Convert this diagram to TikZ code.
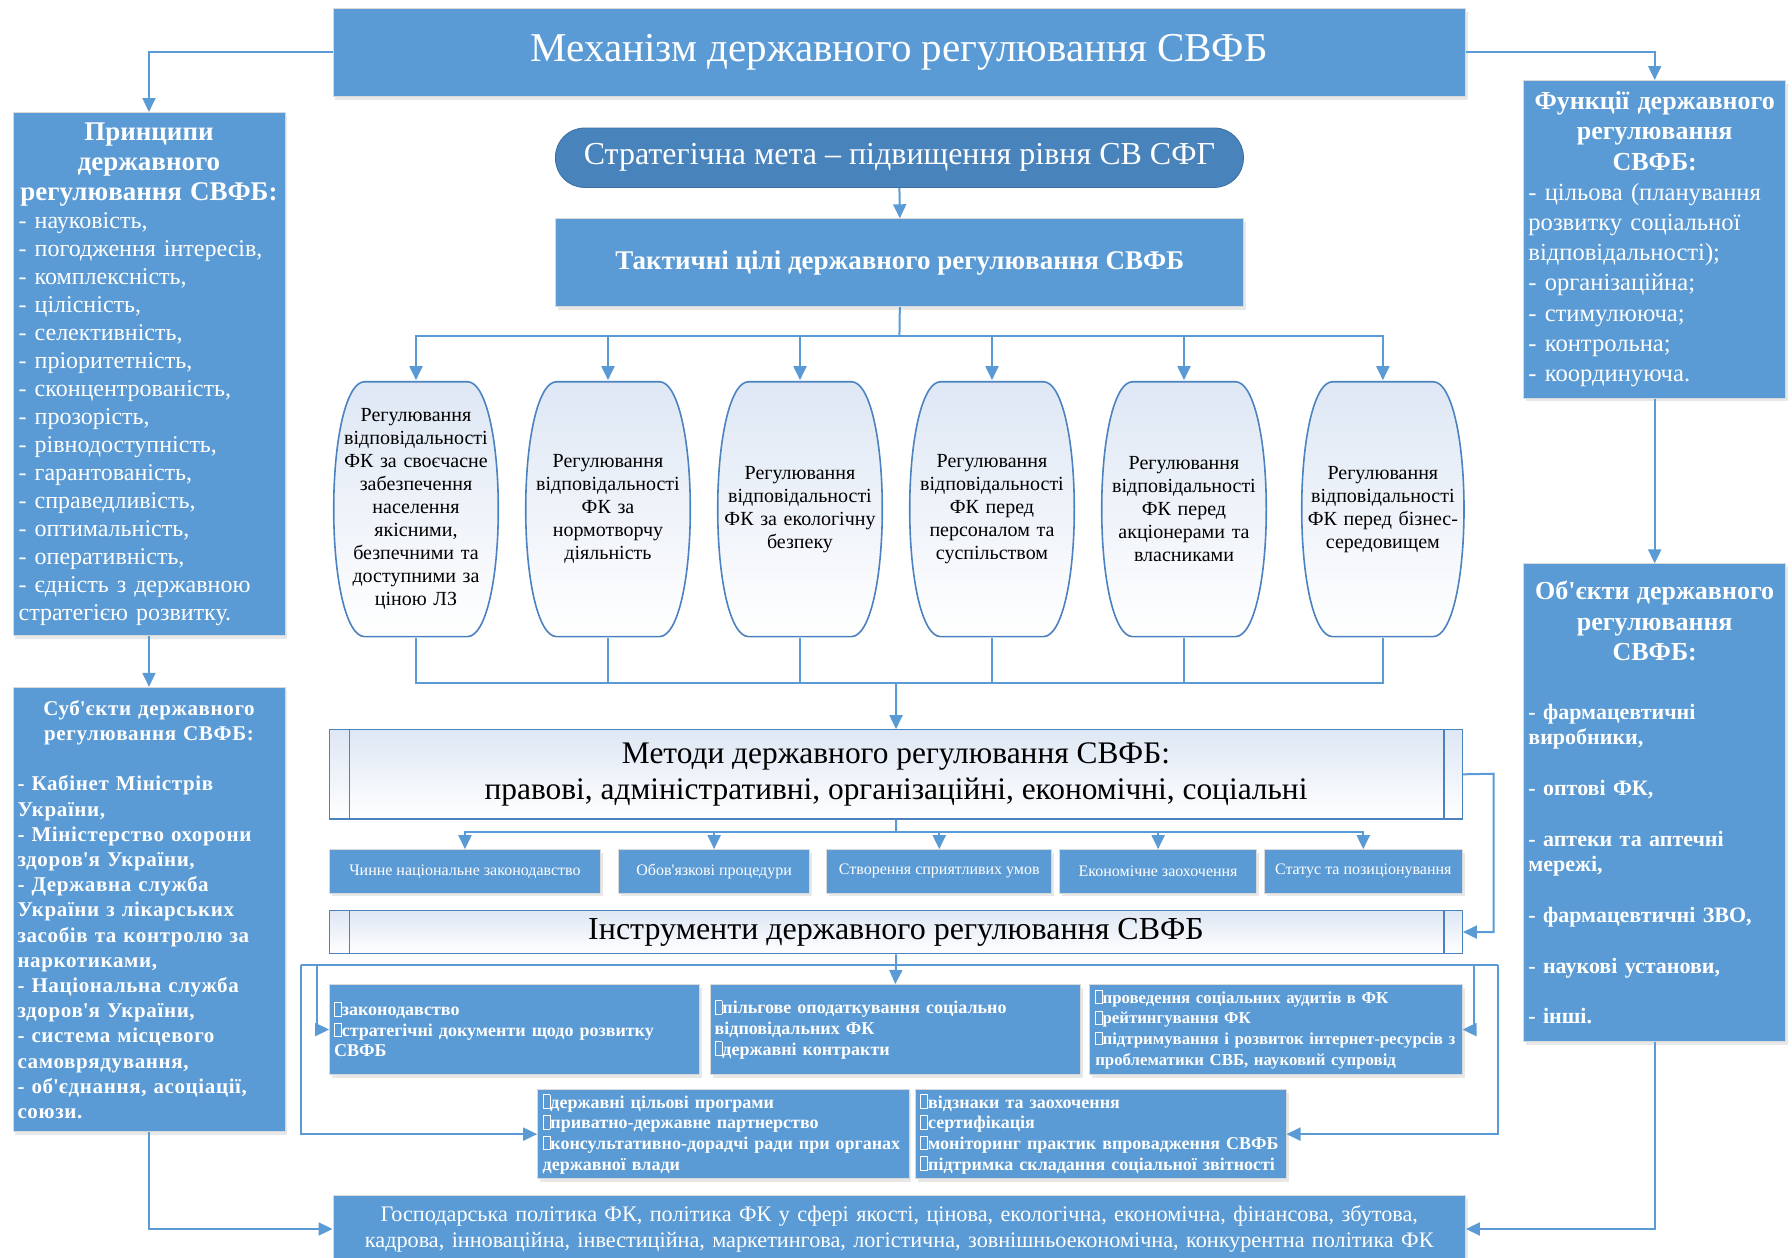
\documentclass[tikz,border=0pt]{standalone}
\usepackage{fontspec}
\setmainfont{Liberation Serif}
\newfontfamily\apfont{Liberation Serif}
\usetikzlibrary{arrows.meta,shadows}
\setlength{\parindent}{0pt}

\definecolor{boxblue}{RGB}{91,155,213}
\definecolor{goalblue}{RGB}{72,131,188}
\definecolor{goalline}{RGB}{60,110,160}
\definecolor{linecol}{RGB}{91,155,213}
\definecolor{barline}{RGB}{75,130,192}
\definecolor{lighttop}{RGB}{222,231,244}

\newcommand{\upx}{0.5714pt}
\newcommand{\ap}{{\apfont'}}
\newcommand{\tofu}{{\setlength{\fboxsep}{0pt}\setlength{\fboxrule}{0.4pt}\fbox{\rule{0pt}{0.72em}\hspace{0.34em}}}}

\begin{document}
\begin{tikzpicture}[
    x=0.5714pt, y=-0.5714pt,
    box/.style={draw=black!15, fill=boxblue, text=white, inner sep=0pt, anchor=north west,
      drop shadow={opacity=0.18, shadow xshift=1.2pt, shadow yshift=-1.6pt}},
    goal/.style={draw=goalline, fill=goalblue, text=white, rounded corners=14.5pt, inner sep=0pt,
      minimum width=602*\upx, minimum height=52*\upx},
    proc/.style={draw=barline, line width=0.6pt, top color=lighttop, bottom color=white, text=black,
      inner sep=0pt, anchor=north west,
      path picture={\draw[barline, line width=0.6pt]
        ([xshift=17*\upx]path picture bounding box.north west) -- ([xshift=17*\upx]path picture bounding box.south west)
        ([xshift=-16*\upx]path picture bounding box.north east) -- ([xshift=-16*\upx]path picture bounding box.south east);}},
    barrel/.style={minimum width=146*\upx, minimum height=225*\upx, text width=140*\upx, align=center,
      inner sep=0pt, font=\fontsize{10}{11.5}\selectfont,
      path picture={\draw[barline, line width=0.8pt, top color=lighttop, bottom color=white]
        ([shift={(28,1)}]path picture bounding box.north west) -- ([shift={(-28,1)}]path picture bounding box.north east)
        .. controls ([shift={(-12,1)}]path picture bounding box.north east) and ([shift={(-1,-62)}]path picture bounding box.east) .. ([shift={(-1,0)}]path picture bounding box.east)
        .. controls ([shift={(-1,62)}]path picture bounding box.east) and ([shift={(-12,-1)}]path picture bounding box.south east) .. ([shift={(-28,-1)}]path picture bounding box.south east)
        -- ([shift={(28,-1)}]path picture bounding box.south west)
        .. controls ([shift={(12,-1)}]path picture bounding box.south west) and ([shift={(1,62)}]path picture bounding box.west) .. ([shift={(1,0)}]path picture bounding box.west)
        .. controls ([shift={(1,-62)}]path picture bounding box.west) and ([shift={(12,1)}]path picture bounding box.north west) .. cycle;}},
    small/.style={box, minimum height=38*\upx, font=\fontsize{8}{9.6}\selectfont},
    tool/.style={box, text width=316*\upx, font=\fontsize{9}{10.3}\selectfont\bfseries},
    line/.style={draw=linecol, line width=1pt},
    arrow/.style={line, -{Triangle[length=7pt, width=6.5pt]}}
  ]
  \useasboundingbox (0,0) rectangle (1568,1100);

  % Define top nodes
  \node[box, minimum width=991*\upx, minimum height=77*\upx, font=\fontsize{20.5}{24}\selectfont] (title) at (291,7)
    {Механізм державного регулювання СВФБ};
  \node[goal, font=\fontsize{16}{19}\selectfont] (goal) at (787,138)
    {Стратегічна мета – підвищення рівня СВ СФГ};
  \node[box, minimum width=602*\upx, minimum height=77*\upx, font=\fontsize{13.5}{16}\selectfont\bfseries] (tact) at (486,191)
    {Тактичні цілі державного регулювання СВФБ};

  % Define side boxes
  \node[box, minimum width=238*\upx, minimum height=458*\upx, text width=228*\upx, font=\fontsize{12}{14}\selectfont] (princ) at (11,98)
    {{\centering\fontsize{13.5}{15.1}\selectfont\bfseries Принципи\\ державного\\ регулювання СВФБ:\par}
     \raggedright
     - науковість,\\ - погодження інтересів,\\ - комплексність,\\ - цілісність,\\ - селективність,\\
     - пріоритетність,\\ - сконцентрованість,\\ - прозорість,\\ - рівнодоступність,\\ - гарантованість,\\
     - справедливість,\\ - оптимальність,\\ - оперативність,\\ - єдність з державною\\ стратегією розвитку.};
  \node[box, minimum width=238*\upx, minimum height=389*\upx, text width=230*\upx, font=\fontsize{10.5}{12.6}\selectfont\bfseries\addfontfeatures{LetterSpace=3}] (subj) at (11,601)
    {{\centering Суб\ap{}єкти державного\\ регулювання СВФБ:\par}
     \raggedright
     \mbox{}\\
     - Кабінет Міністрів\\ України,\\ - Міністерство охорони\\ здоров\ap{}я України,\\ - Державна служба\\
     України з лікарських\\ засобів та контролю за\\ наркотиками,\\ - Національна служба\\ здоров\ap{}я України,\\
     - система місцевого\\ самоврядування,\\ - об\ap{}єднання, асоціації,\\ союзи.};
  \node[box, minimum width=229*\upx, minimum height=278*\upx, text width=221*\upx, font=\fontsize{12.3}{15.1}\selectfont] (func) at (1333,70)
    {{\centering\fontsize{13}{15.1}\selectfont\bfseries Функції державного\\ регулювання\\ СВФБ:\par}
     \raggedright
     - цільова (планування\\ розвитку соціальної\\ відповідальності);\\ - організаційна;\\ - стимулююча;\\
     - контрольна;\\ - координуюча.};
  \node[box, minimum width=229*\upx, minimum height=418*\upx, text width=221*\upx, font=\fontsize{11}{12.7}\selectfont\bfseries] (obj) at (1333,493)
    {{\centering\fontsize{13}{15.1}\selectfont Об\ap{}єкти державного\\ регулювання\\ СВФБ:\par}
     \raggedright
     \mbox{}\\[4pt]
     - фармацевтичні\\ виробники,\\ \mbox{}\\ - оптові ФК,\\ \mbox{}\\ - аптеки та аптечні\\ мережі,\\ \mbox{}\\
     - фармацевтичні ЗВО,\\ \mbox{}\\ - наукові установи,\\ \mbox{}\\ - інші.};

  % Define tactical goals
  \node[barrel] (r1) at (364,445.5) {Регулювання\\ відповідальності\\ ФК за своєчасне\\ забезпечення\\ населення\\ якісними,\\ безпечними та\\ доступними за\\ ціною ЛЗ};
  \node[barrel] (r2) at (532,445.5) {Регулювання\\ відповідальності\\ ФК за\\ нормотворчу\\ діяльність};
  \node[barrel] (r3) at (700,445.5) {Регулювання\\ відповідальності\\ ФК за екологічну\\ безпеку};
  \node[barrel] (r4) at (868,445.5) {Регулювання\\ відповідальності\\ ФК перед\\ персоналом та\\ суспільством};
  \node[barrel] (r5) at (1036,445.5) {Регулювання\\ відповідальності\\ ФК перед\\ акціонерами та\\ власниками};
  \node[barrel, minimum width=144*\upx] (r6) at (1210,445.5) {Регулювання\\ відповідальності\\ ФК перед бізнес-\\ середовищем};

  % Define methods and instruments
  \node[proc, minimum width=991*\upx, minimum height=78*\upx, align=center, font=\fontsize{15.7}{17.7}\selectfont] (meth) at (288,638)
    {Методи державного регулювання СВФБ:\\ правові, адміністративні, організаційні, економічні, соціальні};
  \node[small, minimum width=237*\upx] (m1) at (288,743) {Чинне національне законодавство};
  \node[small, minimum width=167*\upx] (m2) at (541,743) {Обов\ap{}язкові процедури};
  \node[small, minimum width=197*\upx] (m3) at (723,743) {Створення сприятливих умов};
  \node[small, minimum width=172*\upx] (m4) at (927,743) {Економічне заохочення};
  \node[small, minimum width=173*\upx] (m5) at (1106,743) {Статус та позиціонування};
  \node[proc, minimum width=991*\upx, minimum height=38*\upx, font=\fontsize{16}{19}\selectfont] (instr) at (288,796)
    {Інструменти державного регулювання СВФБ};

  % Define instrument groups
  \node[tool, minimum width=324*\upx, minimum height=79*\upx] (ta) at (288,861)
    {\tofu{}законодавство\\ \tofu{}стратегічні документи щодо розвитку\\ СВФБ};
  \node[tool, minimum width=324*\upx, minimum height=79*\upx] (tb) at (621,861)
    {\tofu{}пільгове оподаткування соціально\\ відповідальних ФК\\ \tofu{}державні контракти};
  \node[tool, minimum width=326*\upx, minimum height=79*\upx, font=\fontsize{8.4}{10.3}\selectfont\bfseries] (tc) at (953,861)
    {\tofu{}проведення соціальних аудитів в ФК\\ \tofu{}рейтингування ФК\\ \mbox{\tofu{}підтримування і розвиток інтернет-ресурсів з}\\ проблематики СВБ, науковий супровід};
  \node[tool, minimum width=325*\upx, minimum height=78*\upx] (td) at (470,953)
    {\tofu{}державні цільові програми\\ \tofu{}приватно-державне партнерство\\ \tofu{}консультативно-дорадчі ради при органах\\ державної влади};
  \node[tool, minimum width=324*\upx, minimum height=78*\upx] (te) at (801,953)
    {\tofu{}відзнаки та заохочення\\ \tofu{}сертифікація\\ \tofu{}моніторинг практик впровадження СВФБ\\ \tofu{}підтримка складання соціальної звітності};

  % Define policy box
  \node[box, minimum width=991*\upx, minimum height=58*\upx, text width=985*\upx, align=center, font=\fontsize{11.1}{12.6}\selectfont] (policy) at (291,1046)
    {Господарська політика ФК, політика ФК у сфері якості, цінова, екологічна, економічна, фінансова, збутова,\\
     кадрова, інноваційна, інвестиційна, маркетингова, логістична, зовнішньоекономічна, конкурентна політика ФК};

  % Add junction points
  \coordinate (tj) at (787,294);
  \coordinate (bj) at (784,598);
  \coordinate (mj) at (784,728);
  \coordinate (mr) at (1307,677);
  \coordinate (ij) at (784,844);
  \coordinate (ol) at (263,844);
  \coordinate (il) at (277,844);
  \coordinate (ir) at (1290,844);
  \coordinate (or) at (1311,844);

  % Draw arrows
  \draw[arrow] (title.west) -| (princ.north);
  \draw[arrow] (title.east) -| (func.north);
  \draw[arrow] (princ.south) -- (subj.north);
  \draw[arrow] (func.south) -- (obj.north);
  \draw[arrow] (subj.south) |- (policy.west);
  \draw[arrow] (obj.south) |- (policy.east);
  \draw[arrow] (goal.south) -- (tact.north);
  \draw[line] (tact.south) -- (tj);
  \foreach \i in {1,...,6} \draw[arrow] (tj) -| (r\i.north);
  \foreach \i in {1,...,6} \draw[line] (r\i.south) |- (bj);
  \draw[arrow] (bj) -- (meth.north);
  \draw[line] (meth.south) -- (mj);
  \foreach \i in {1,...,5} \draw[arrow] (mj) -| (m\i.north);
  \draw[arrow] (meth.east) -- (mr) |- (instr.east);
  \draw[line] (instr.south) -- (ij);
  \draw[arrow] (ij) -- (tb.north);
  \draw[line] (ol) -- (or);
  \draw[arrow] (ol) |- (td.west);
  \draw[arrow] (il) |- (ta.west);
  \draw[arrow] (ir) |- (tc.east);
  \draw[arrow] (or) |- (te.east);
\end{tikzpicture}
\end{document}
